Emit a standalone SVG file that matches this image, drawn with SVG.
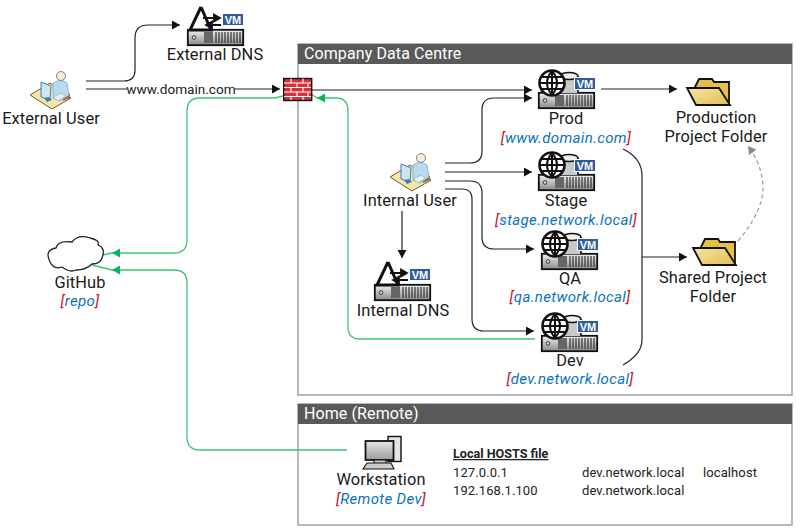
<svg xmlns="http://www.w3.org/2000/svg" width="800" height="532" viewBox="0 0 800 532">
<style>
text{font-family:Roboto,"Open Sans","Liberation Sans",sans-serif;fill:#1a1a1a}
.l{font-size:16.4px;text-anchor:middle;letter-spacing:.1px}
.s{font-size:15px;text-anchor:middle;font-style:italic;fill:#0a72c4;letter-spacing:.35px}
.s tspan{fill:#cc1122}
.h{font-size:16px;fill:#fff;letter-spacing:.1px}
.t{font-size:13px;fill:#222;letter-spacing:.1px}
.box{fill:#fff;stroke:#a0a0a0;stroke-width:1.5}
.bar{fill:#595959}
.c{fill:none;stroke:#222;stroke-width:1.2}
.g{fill:none;stroke:#3cc47c;stroke-width:1.3}
.d{fill:none;stroke:#9a9a9a;stroke-width:1.2;stroke-dasharray:4 3}
</style>
<defs>
<marker id="a" markerUnits="userSpaceOnUse" markerWidth="9" markerHeight="10" refX="8" refY="4.500" orient="auto"><path d="M0 0L8 4.500L0 9z" fill="#111"/></marker>
<marker id="ag" markerUnits="userSpaceOnUse" markerWidth="9" markerHeight="10" refX="8" refY="4.500" orient="auto"><path d="M0 0L8 4.500L0 9z" fill="#0eb257"/></marker>
<marker id="ad" markerUnits="userSpaceOnUse" markerWidth="9" markerHeight="10" refX="8" refY="4.500" orient="auto"><path d="M0 0L8 4.500L0 9z" fill="#888"/></marker>
<linearGradient id="srv" x1="0" y1="0" x2="0" y2="1"><stop offset="0" stop-color="#f0f0f0"/><stop offset="1" stop-color="#8a8a8a"/></linearGradient>
<linearGradient id="fold" x1="0" y1="0" x2="1" y2="1"><stop offset="0" stop-color="#f5e6a0"/><stop offset="1" stop-color="#e2bd55"/></linearGradient>
<linearGradient id="scr" x1="0" y1="0" x2="0" y2="1"><stop offset="0" stop-color="#e6e6e6"/><stop offset="1" stop-color="#9c9c9c"/></linearGradient>
<g id="vm"><rect x="-.5" y="-.5" width="21" height="12" fill="#2f5c9e" stroke="#fff"/><text x="10" y="9.600" text-anchor="middle" style="font-size:11px;font-weight:700;fill:#fff;font-family:'Liberation Sans',sans-serif;letter-spacing:0">VM</text></g>
<g id="rack">
<rect x="0.800" y="0.800" width="55.400" height="15.400" fill="url(#srv)" stroke="#111" stroke-width="1.800"/>
<circle cx="7" cy="8.500" r="1.800" fill="#ddd" stroke="#333"/>
<rect x="17" y="3" width="9" height="11" fill="#666"/>
<path d="M29 3v11M32 3v11M35 3v11M38 3v11M41 3v11M44 3v11M47 3v11M50 3v11M53 3v11" stroke="#333" stroke-width="1.200"/>
</g>
<g id="web">
<use href="#rack" x="0" y="22"/>
<path d="M22 6V23H40V6z" fill="#c9c9c9"/>
<path d="M22 6V23M40 6V23" stroke="#111" stroke-width="1.600"/>
<ellipse cx="31" cy="6" rx="9" ry="3.500" fill="#eee" stroke="#111" stroke-width="1.600"/>
<use href="#vm" x="37" y="8"/>
<circle cx="14" cy="13" r="12.500" fill="#fff" stroke="#111" stroke-width="2.600"/>
<path d="M2 13H26M4 7H24M4 19H24M14 1V25M14 1Q4 13 14 25M14 1Q24 13 14 25" fill="none" stroke="#111" stroke-width="2"/>
</g>
<g id="dns">
<use href="#rack" x="0" y="24"/>
<path d="M14 2L3 25H24L14 2" fill="#fff" stroke="#111" stroke-width="3"/>
<path d="M16 13H33M33 13l-6-3.500v7zM34 20H19M19 20l6-3.500v7z" stroke="#111" stroke-width="1.800" fill="#111"/>
<use href="#vm" x="36" y="9"/>
</g>
<g id="user">
<path d="M0 24L20 12L41 27L22 38z" fill="#f6e6a6" stroke="#6a5a30" stroke-width="1"/>
<path d="M33 19l7 4v4l-7 3z" fill="#a5683a"/>
<path d="M23 12Q31 7 37 12L39 24L30 30L23 27z" fill="#b5dcef" stroke="#7aa8c0" stroke-width=".8"/>
<circle cx="31" cy="5" r="4.500" fill="#f8ecdf" stroke="#777" stroke-width=".9"/>
<path d="M11 11L21 15L20 29L11 26z" fill="#cfe3f1" stroke="#3f7fb0" stroke-width="1"/>
<path d="M14 27L17 31L22 29L19 26z" fill="#3f7fb0"/>
<path d="M23 26L31 22L36 25L28 30z" fill="#e4eef4" stroke="#7aa8c0" stroke-width=".6"/>
</g>
<g id="folder">
<path d="M9 9L13 1H26L28 4H43V24H14z" fill="#e6bf48" stroke="#111" stroke-width="1.800"/>
<path d="M1 10H33L44 27H10z" fill="url(#fold)" stroke="#111" stroke-width="1.800"/>
</g>
</defs>
<g id="company"><rect class="box" x="298" y="44" width="494" height="351"/><rect class="bar" x="298" y="44" width="494" height="20"/><text class="h" x="304" y="59">Company Data Centre</text></g>
<g id="home"><rect class="box" x="298" y="404" width="494" height="121"/><rect class="bar" x="298" y="404" width="494" height="20"/><text class="h" x="304" y="419">Home (Remote)</text></g>
<g id="connectors">
<path class="c" marker-end="url(#a)" d="M86 81H124Q135 81 135 70V38Q135 25 148 25H180"/>
<path class="c" marker-end="url(#a)" d="M86 89H280"/>
<path class="c" marker-end="url(#a)" d="M312 90H532"/>
<path class="c" marker-end="url(#a)" d="M445 163H470Q482 163 482 151V110Q482 98 494 98H532"/>
<path class="c" marker-end="url(#a)" d="M445 172H532"/>
<path class="c" marker-end="url(#a)" d="M445 181H470Q482 181 482 193V237Q482 249 494 249H534"/>
<path class="c" marker-end="url(#a)" d="M445 189H462Q472 189 472 199V319Q472 331 484 331H534"/>
<path class="c" marker-end="url(#a)" d="M402 211V258"/>
<path class="c" marker-end="url(#a)" d="M601 89H677"/>
<path class="c" d="M623 149Q642 158 642 176V340Q642 354 623 365"/>
<path class="c" marker-end="url(#a)" d="M642 257H687"/>
<path class="d" marker-end="url(#ad)" d="M738 241Q764 210 763 186Q762 165 748 146"/>
<path class="g" marker-end="url(#ag)" d="M535 339H360Q348 339 348 327V111Q348 98 336 98H317"/>
<path class="g" d="M317 98L311 94"/>
<path class="g" marker-end="url(#ag)" d="M283 96L275 98H200Q187 98 187 111V240Q187 253 174 253H112"/>
<path class="g" d="M112 253L103 255"/>
<path class="g" marker-end="url(#ag)" d="M347 450H200Q187 450 187 437V283Q187 270 174 270H112"/>
<path class="g" d="M112 270L92 265"/>
<rect x="127" y="82" width="108" height="14" fill="#fff"/>
<text x="181" y="94" text-anchor="middle" style="font-size:13.6px;fill:#222;letter-spacing:0">www.domain.com</text>
</g>
<g id="external-user"><use href="#user" x="30" y="71"/><text class="l" x="51" y="124">External User</text></g>
<g id="external-dns"><use href="#dns" x="187" y="5"/><text class="l" x="215" y="60">External DNS</text></g>
<g id="firewall"><rect x="283.700" y="78.500" width="28" height="22" fill="#d6323a" stroke="#111" stroke-width="1.400"/><path d="M284 83H311M284 87.500H311M284 92H311M284 96.500H311M291 78.500V83M303 78.500V83M297 83V87.500M308 83V87.500M291 87.500V92M303 87.500V92M297 92V96.500M308 92V96.500M291 96.500V100M303 96.500V100" stroke="#fff" stroke-width="1.100" fill="none"/></g>
<g id="prod"><use href="#web" x="538" y="70"/><text class="l" x="566" y="124">Prod</text><text class="s" x="566" y="143"><tspan>[</tspan>www.domain.com<tspan>]</tspan></text></g>
<g id="stage"><use href="#web" x="538" y="152"/><text class="l" x="566" y="206">Stage</text><text class="s" x="566" y="225"><tspan>[</tspan>stage.network.local<tspan>]</tspan></text></g>
<g id="qa"><use href="#web" x="541" y="231"/><text class="l" x="570" y="284">QA</text><text class="s" x="570" y="302"><tspan>[</tspan>qa.network.local<tspan>]</tspan></text></g>
<g id="dev"><use href="#web" x="541" y="313"/><text class="l" x="570" y="366">Dev</text><text class="s" x="570" y="384"><tspan>[</tspan>dev.network.local<tspan>]</tspan></text></g>
<g id="internal-user"><use href="#user" x="390" y="153"/><text class="l" x="410" y="206">Internal User</text></g>
<g id="internal-dns"><use href="#dns" x="374" y="260"/><text class="l" x="403" y="316">Internal DNS</text></g>
<g id="production-folder"><use href="#folder" x="686" y="78"/><text class="l" x="716" y="123">Production</text><text class="l" x="716" y="142">Project Folder</text></g>
<g id="shared-folder"><use href="#folder" x="692" y="238"/><text class="l" x="713" y="283">Shared Project</text><text class="l" x="713" y="302">Folder</text></g>
<g id="github"><path d="M50 262Q44 250 56 248Q58 240 72 242Q78 234 90 238Q100 240 98 245Q106 248 102 258Q100 264 92 264Q86 270 76 270Q70 273 62 267Q54 270 50 262z" fill="#fff" stroke="#222" stroke-width="1.300"/><text class="l" x="80" y="288">GitHub</text><text class="s" x="80" y="306"><tspan>[</tspan>repo<tspan>]</tspan></text></g>
<g id="workstation">
<rect x="388" y="436.500" width="13" height="25" fill="#e4e4e4" stroke="#111" stroke-width="1.400"/>
<rect x="365.500" y="441" width="28" height="19" fill="url(#scr)" stroke="#111" stroke-width="1.800"/>
<path d="M374 460H386V463H374zM367 463H391L394 469H363z" fill="#ccc" stroke="#111" stroke-width="1.100"/>
<text class="l" x="381" y="485">Workstation</text><text class="s" x="381" y="504"><tspan>[</tspan>Remote Dev<tspan>]</tspan></text></g>
<g id="hosts">
<text class="t" x="453" y="458" style="font-weight:700;text-decoration:underline;font-size:12.6px;letter-spacing:0">Local HOSTS file</text>
<text class="t" x="453" y="477">127.0.0.1</text><text class="t" x="582" y="477">dev.network.local</text><text class="t" x="703" y="477">localhost</text>
<text class="t" x="453" y="495">192.168.1.100</text><text class="t" x="582" y="495">dev.network.local</text>
</g>
</svg>
